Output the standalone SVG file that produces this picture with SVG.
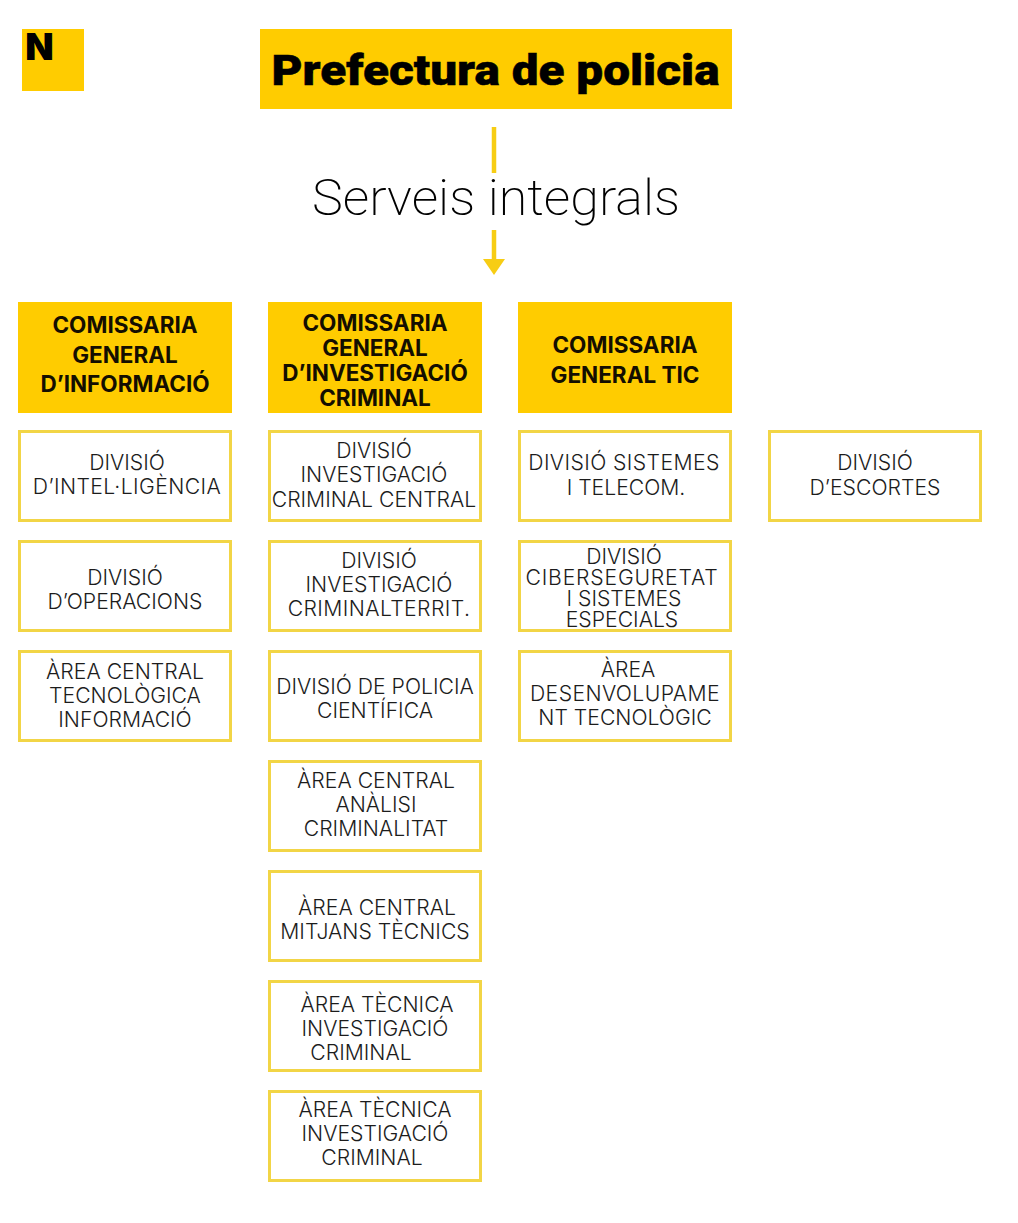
<svg xmlns="http://www.w3.org/2000/svg" width="1018" height="1223" viewBox="0 0 1018 1223">
<style>
text{font-family:Inter,"Liberation Sans",sans-serif;text-anchor:middle;fill:#1c1c1c}
.h{fill:#fc0}
.b{fill:#fff;stroke:#f2d546;stroke-width:3}
.hd text{font-size:22.5px;font-weight:700;fill:#140e00}
.d text{font-size:21.2px;font-weight:260}
.w{letter-spacing:.4px}
.x{letter-spacing:.8px}
.c{stroke:#f7cd14;stroke-width:4.5;fill:none}
</style>
<rect width="1018" height="1223" fill="#fff"/>
<g id="logo"><rect class="h" x="22" y="29" width="62" height="62"/><text x="39.500" y="60" style="font-size:37px;font-weight:900;fill:#000">N</text></g>
<g id="prefectura"><rect class="h" x="260" y="29" width="472" height="80"/><text x="495.500" y="85" textLength="448" lengthAdjust="spacingAndGlyphs" style="font-family:Roboto,sans-serif;font-size:43px;font-weight:900;fill:#000;stroke:#000;stroke-width:.5">Prefectura de policia</text></g>
<g id="serveis"><text x="496" y="215" textLength="368" lengthAdjust="spacingAndGlyphs" style="font-family:Roboto,sans-serif;font-size:50px;font-weight:200;fill:#000">Serveis integrals</text></g>
<g id="connectors">
<path class="c" d="M494 127V173M494 230V262"/>
<path d="M483 259H505L494 275Z" fill="#f7cd14"/>
</g>
<g id="h1" class="hd"><rect class="h" x="18" y="302" width="214" height="111"/><text x="125" y="333">COMISSARIA</text><text x="125" y="363">GENERAL</text><text x="125" y="392">D’INFORMACIÓ</text></g>
<g id="h2" class="hd"><rect class="h" x="268" y="302" width="214" height="111"/><text x="375" y="331">COMISSARIA</text><text x="375" y="356">GENERAL</text><text x="375" y="381">D’INVESTIGACIÓ</text><text x="375" y="406">CRIMINAL</text></g>
<g id="h3" class="hd"><rect class="h" x="518" y="302" width="214" height="111"/><text x="625" y="353">COMISSARIA</text><text x="625" y="383">GENERAL TIC</text></g>
<g id="n1" class="d"><rect class="b" x="19.500" y="431.500" width="211" height="89"/><text x="127" y="470">DIVISIÓ</text><text class="w" x="127" y="494">D’INTEL·LIGÈNCIA</text></g>
<g id="n2" class="d"><rect class="b" x="19.500" y="541.500" width="211" height="89"/><text x="125" y="585">DIVISIÓ</text><text x="125" y="609">D’OPERACIONS</text></g>
<g id="n3" class="d"><rect class="b" x="19.500" y="651.500" width="211" height="89"/><text x="125" y="679">ÀREA CENTRAL</text><text x="125" y="703">TECNOLÒGICA</text><text x="125" y="727">INFORMACIÓ</text></g>
<g id="n4" class="d"><rect class="b" x="269.500" y="431.500" width="211" height="89"/><text x="374" y="458">DIVISIÓ</text><text x="374" y="482">INVESTIGACIÓ</text><text x="374" y="507">CRIMINAL CENTRAL</text></g>
<g id="n5" class="d"><rect class="b" x="269.500" y="541.500" width="211" height="89"/><text x="379" y="568">DIVISIÓ</text><text x="379" y="592">INVESTIGACIÓ</text><text class="w" x="379" y="616">CRIMINALTERRIT.</text></g>
<g id="n6" class="d"><rect class="b" x="269.500" y="651.500" width="211" height="89"/><text x="375" y="694">DIVISIÓ DE POLICIA</text><text x="375" y="718">CIENTÍFICA</text></g>
<g id="n7" class="d"><rect class="b" x="269.500" y="761.500" width="211" height="89"/><text x="376" y="788">ÀREA CENTRAL</text><text x="376" y="812">ANÀLISI</text><text x="376" y="836">CRIMINALITAT</text></g>
<g id="n8" class="d"><rect class="b" x="269.500" y="871.500" width="211" height="89"/><text x="377" y="915">ÀREA CENTRAL</text><text x="375" y="939">MITJANS TÈCNICS</text></g>
<g id="n9" class="d"><rect class="b" x="269.500" y="981.500" width="211" height="89"/><text x="377" y="1012">ÀREA TÈCNICA</text><text x="375" y="1036">INVESTIGACIÓ</text><text x="361" y="1060">CRIMINAL</text></g>
<g id="n10" class="d"><rect class="b" x="269.500" y="1091.500" width="211" height="89"/><text x="375" y="1117">ÀREA TÈCNICA</text><text x="375" y="1141">INVESTIGACIÓ</text><text x="372" y="1165">CRIMINAL</text></g>
<g id="n11" class="d"><rect class="b" x="519.500" y="431.500" width="211" height="89"/><text class="w" x="624" y="470">DIVISIÓ SISTEMES</text><text x="626" y="495">I TELECOM.</text></g>
<g id="n12" class="d"><rect class="b" x="519.500" y="541.500" width="211" height="89"/><text x="624" y="564">DIVISIÓ</text><text class="x" x="622" y="585">CIBERSEGURETAT</text><text x="624" y="606">I SISTEMES</text><text x="622" y="627">ESPECIALS</text></g>
<g id="n13" class="d"><rect class="b" x="519.500" y="651.500" width="211" height="89"/><text x="628" y="677">ÀREA</text><text class="w" x="625" y="701">DESENVOLUPAME</text><text x="625" y="725">NT TECNOLÒGIC</text></g>
<g id="n14" class="d"><rect class="b" x="769.500" y="431.500" width="211" height="89"/><text x="875" y="470">DIVISIÓ</text><text x="875" y="495">D’ESCORTES</text></g>
</svg>
